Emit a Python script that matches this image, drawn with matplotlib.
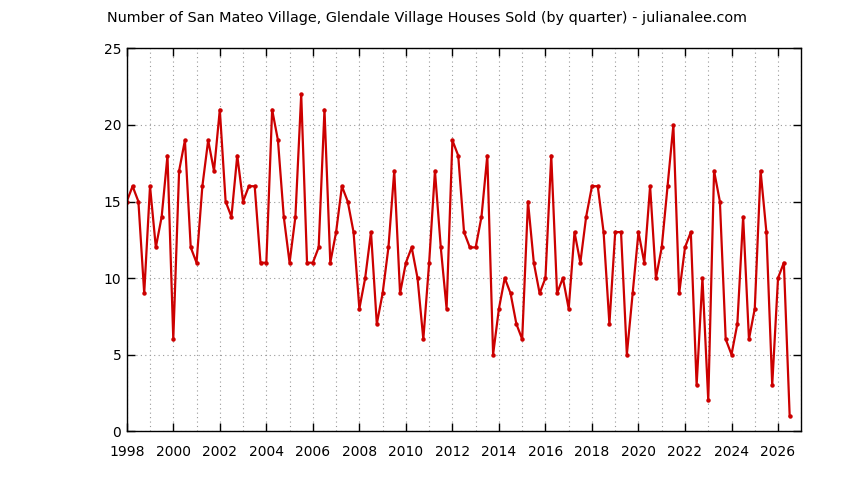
import numpy as np
import matplotlib
matplotlib.use('Agg')
import matplotlib.pyplot as plt
from matplotlib.ticker import MultipleLocator

# quarterly sales, starting Q1 1998
start_year = 1998.0
sold = [15, 16, 15, 9, 16, 12, 14, 18,
        6, 17, 19, 12, 11, 16, 19, 17,
        21, 15, 14, 18, 15, 16, 16, 11,
        11, 21, 19, 14, 11, 14, 22, 11,
        11, 12, 21, 11, 13, 16, 15, 13,
        8, 10, 13, 7, 9, 12, 17, 9,
        11, 12, 10, 6, 11, 17, 12, 8,
        19, 18, 13, 12, 12, 14, 18, 5,
        8, 10, 9, 7, 6, 15, 11, 9,
        10, 18, 9, 10, 8, 13, 11, 14,
        16, 16, 13, 7, 13, 13, 5, 9,
        13, 11, 16, 10, 12, 16, 20, 9,
        12, 13, 3, 10, 2, 17, 15, 6,
        5, 7, 14, 6, 8, 17, 13, 3,
        10, 11, 1]
x = start_year + np.arange(len(sold)) / 4.0

title = 'Number of San Mateo Village, Glendale Village Houses Sold (by quarter) - julianalee.com'

plt.rcParams['font.family'] = ['DejaVu Sans']
fig = plt.figure(figsize=(8.44, 4.8), dpi=100)
ax = fig.add_axes([0.1502, 0.102, 0.7992, 0.797])

ax.plot(x, sold, color='#cc0000', lw=1.6, marker='o', ms=2.2, mec='#cc0000', mfc='#cc0000')

ax.set_xlim(1998, 2027)
ax.set_ylim(0, 25)
ax.xaxis.set_major_locator(MultipleLocator(2))
ax.xaxis.set_minor_locator(MultipleLocator(1))
ax.yaxis.set_major_locator(MultipleLocator(5))
ax.grid(True, which='both', axis='x', color='#999999', ls=(0, (1, 3)), lw=0.8)
ax.grid(True, which='major', axis='y', color='#999999', ls=(0, (1, 3)), lw=0.8)
ax.tick_params(which='major', direction='in', length=6, width=1, top=True, right=True,
               labelsize=10)
ax.tick_params(axis='x', pad=10)
ax.tick_params(axis='y', pad=4)
ax.tick_params(which='minor', length=0, top=True)
for s in ax.spines.values():
    s.set_linewidth(1)

fig.text(0.127, 0.9625, title, fontsize=10.4, va='center', ha='left')

fig.savefig('out.png', dpi=100)
